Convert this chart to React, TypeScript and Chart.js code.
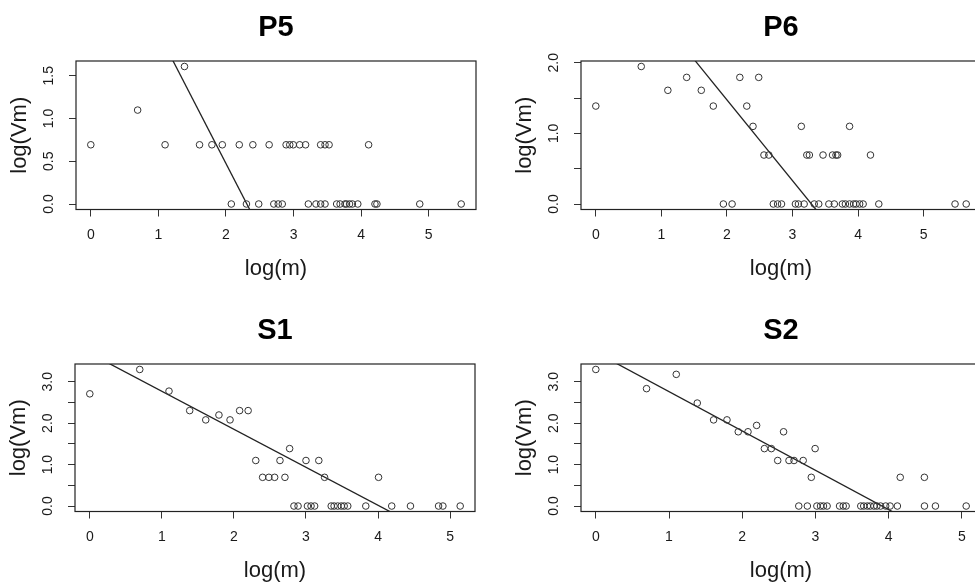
import React, { useEffect, useRef } from "react";
import { Chart, registerables } from "chart.js";

Chart.register(...registerables);

// ---------- data (x = log(m), y = log(Vm)) ----------
const P5_X = [1.386, 0.693, 0, 1.099, 1.609, 1.792, 1.946, 2.197, 2.398, 2.639, 2.89, 2.944, 2.996, 3.091, 3.178, 3.401, 3.466, 3.526, 4.111, 2.079, 2.303, 2.485, 2.708, 2.773, 2.833, 3.219, 3.332, 3.401, 3.466, 3.638, 3.689, 3.761, 3.784, 3.829, 3.871, 3.951, 4.205, 4.234, 4.868, 5.481];
const P5_Y = [1.609, 1.099, 0.693, 0.693, 0.693, 0.693, 0.693, 0.693, 0.693, 0.693, 0.693, 0.693, 0.693, 0.693, 0.693, 0.693, 0.693, 0.693, 0.693, 0, 0, 0, 0, 0, 0, 0, 0, 0, 0, 0, 0, 0, 0, 0, 0, 0, 0, 0, 0, 0];

const P6_X = [0.693, 1.386, 2.197, 2.485, 1.099, 1.609, 0, 1.792, 2.303, 2.398, 3.135, 3.871, 2.565, 2.639, 3.219, 3.258, 3.466, 3.611, 3.664, 3.689, 4.19, 1.946, 2.079, 2.708, 2.773, 2.833, 3.045, 3.091, 3.178, 3.332, 3.401, 3.555, 3.638, 3.761, 3.807, 3.871, 3.932, 3.97, 4.025, 4.078, 4.317, 5.48, 5.65];
const P6_Y = [1.946, 1.792, 1.792, 1.792, 1.609, 1.609, 1.386, 1.386, 1.386, 1.099, 1.099, 1.099, 0.693, 0.693, 0.693, 0.693, 0.693, 0.693, 0.693, 0.693, 0.693, 0, 0, 0, 0, 0, 0, 0, 0, 0, 0, 0, 0, 0, 0, 0, 0, 0, 0, 0, 0, 0, 0];

const S1_X = [0.693, 0, 1.099, 1.386, 1.609, 1.792, 1.946, 2.079, 2.197, 2.773, 2.303, 2.639, 3.0, 3.178, 2.398, 2.485, 2.565, 2.708, 3.258, 4.007, 2.833, 2.89, 3.02, 3.07, 3.12, 3.35, 3.39, 3.44, 3.49, 3.53, 3.58, 3.83, 4.19, 4.45, 4.84, 4.9, 5.14];
const S1_Y = [3.296, 2.708, 2.773, 2.303, 2.079, 2.197, 2.079, 2.303, 2.303, 1.386, 1.099, 1.099, 1.099, 1.099, 0.693, 0.693, 0.693, 0.693, 0.693, 0.693, 0, 0, 0, 0, 0, 0, 0, 0, 0, 0, 0, 0, 0, 0, 0, 0, 0];

const S2_X = [0, 1.099, 0.693, 1.386, 1.609, 1.792, 1.946, 2.079, 2.565, 2.197, 2.303, 2.398, 2.996, 2.485, 2.639, 2.708, 2.833, 2.944, 4.159, 4.489, 2.773, 2.89, 3.02, 3.07, 3.11, 3.16, 3.33, 3.38, 3.42, 3.62, 3.66, 3.71, 3.75, 3.8, 3.84, 3.89, 3.96, 4.02, 4.12, 4.49, 4.64, 5.06];
const S2_Y = [3.296, 3.178, 2.833, 2.485, 2.079, 2.079, 1.792, 1.792, 1.792, 1.946, 1.386, 1.386, 1.386, 1.099, 1.099, 1.099, 1.099, 0.693, 0.693, 0.693, 0, 0, 0, 0, 0, 0, 0, 0, 0, 0, 0, 0, 0, 0, 0, 0, 0, 0, 0, 0, 0, 0];

// fitted lines: y = intercept + slope * x
const P5_FIT = [3.54, -1.533];
const P6_FIT = [3.76, -1.143];
const S1_FIT = [3.686, -0.917];
const S2_FIT = [3.71, -0.949];

const TITLES = ["P5", "P6", "S1", "S2"];
const X_TITLE = "log(m)";
const Y_TITLE = "log(Vm)";

const FONT = "'Liberation Sans', Arial, Helvetica, sans-serif";
const INK = "#1a1a1a";

const boxPlugin = {
  id: "rbox",
  afterDatasetsDraw(chart: any) {
    const { ctx, chartArea: a } = chart;
    ctx.save();
    ctx.strokeStyle = "#222";
    ctx.lineWidth = 1.2;
    ctx.strokeRect(a.left, a.top, a.right - a.left, a.bottom - a.top);
    ctx.restore();
  },
};

function extent(v: number[]) {
  const lo = Math.min(...v);
  const hi = Math.max(...v);
  const pad = (hi - lo) * 0.04;
  return [lo - pad, hi + pad];
}

type PanelProps = {
  title: string;
  xs: number[];
  ys: number[];
  fit: number[];
  allY: boolean;
  left: number;
  top: number;
  padL: number;
  padR: number;
  padB: number;
};

function Panel(p: PanelProps) {
  const ref = useRef<HTMLCanvasElement | null>(null);
  useEffect(() => {
    if (!ref.current) return;
    const [xmin, xmax] = extent(p.xs);
    const [ymin, ymax] = extent(p.ys);
    const pts = p.xs.map((x, i) => ({ x, y: p.ys[i] }));
    const line = [
      { x: xmin, y: p.fit[0] + p.fit[1] * xmin },
      { x: xmax, y: p.fit[0] + p.fit[1] * xmax },
    ];
    const chart = new Chart(ref.current, {
      type: "scatter",
      data: {
        datasets: [
          {
            data: pts,
            pointStyle: "circle",
            pointRadius: 3.3,
            pointBorderWidth: 1,
            borderColor: "#333",
            backgroundColor: "rgba(0,0,0,0)",
            clip: false,
          } as any,
          {
            type: "line",
            data: line,
            borderColor: "#222",
            borderWidth: 1.3,
            pointRadius: 0,
            fill: false,
          } as any,
        ],
      },
      options: {
        animation: false,
        responsive: false,
        devicePixelRatio: 1,
        layout: { padding: { left: p.padL, right: p.padR, top: 0, bottom: p.padB } },
        plugins: {
          legend: { display: false },
          tooltip: { enabled: false },
          title: {
            display: true,
            text: p.title,
            fullSize: false,
            color: "#000",
            font: { family: FONT, size: 29, weight: "bold", lineHeight: 1.2 },
            padding: { top: 10.3, bottom: 15.9 },
          },
        },
        scales: {
          x: {
            type: "linear",
            min: xmin,
            max: xmax,
            border: { display: false },
            grid: { display: true, drawOnChartArea: false, drawTicks: true, tickLength: 7, color: "#333", lineWidth: 1 },
            ticks: {
              stepSize: 1,
              includeBounds: false,
              color: INK,
              padding: 10,
              maxRotation: 0,
              font: { family: FONT, size: 14 },
              callback: (v: any) => String(v),
            },
            title: {
              display: true,
              text: X_TITLE,
              color: INK,
              font: { family: FONT, size: 22, lineHeight: 1.2 },
              padding: { top: 0, bottom: 7.3 },
            },
            afterFit: (s: any) => {
              s.height = 80;
            },
          },
          y: {
            type: "linear",
            min: ymin,
            max: ymax,
            border: { display: false },
            grid: { display: true, drawOnChartArea: false, drawTicks: true, tickLength: 7, color: "#333", lineWidth: 1 },
            ticks: {
              stepSize: 0.5,
              includeBounds: false,
              color: INK,
              padding: 10,
              minRotation: 90,
              maxRotation: 90,
              crossAlign: "center",
              font: { family: FONT, size: 14 },
              callback: (v: any) => (p.allY || Number.isInteger(v) ? Number(v).toFixed(1) : ""),
            },
            title: {
              display: true,
              text: Y_TITLE,
              color: INK,
              font: { family: FONT, size: 22, lineHeight: 1.2 },
              padding: { top: 5.8, bottom: 0 },
            },
            afterFit: (s: any) => {
              s.width = 75;
            },
          },
        },
      } as any,
      plugins: [boxPlugin],
    });
    return () => chart.destroy();
  }, []);
  return (
    <canvas
      ref={ref}
      width={490}
      height={290}
      style={{ position: "absolute", left: p.left, top: p.top, width: 490, height: 290 }}
    />
  );
}

export default function App() {
  return (
    <div
      style={{
        position: "fixed",
        left: 0,
        top: 0,
        width: 975,
        height: 584,
        overflow: "hidden",
        background: "#fff",
      }}
    >
      <Panel title={TITLES[0]} xs={P5_X} ys={P5_Y} fit={P5_FIT} allY={true} left={0} top={0} padL={1} padR={14} padB={0.5} />
      <Panel title={TITLES[1]} xs={P6_X} ys={P6_Y} fit={P6_FIT} allY={false} left={506} top={0} padL={0} padR={15} padB={0.5} />
      <Panel title={TITLES[2]} xs={S1_X} ys={S1_Y} fit={S1_FIT} allY={false} left={0} top={303} padL={0} padR={15} padB={1.5} />
      <Panel title={TITLES[3]} xs={S2_X} ys={S2_Y} fit={S2_FIT} allY={false} left={506} top={303} padL={0} padR={15} padB={1.5} />
    </div>
  );
}
